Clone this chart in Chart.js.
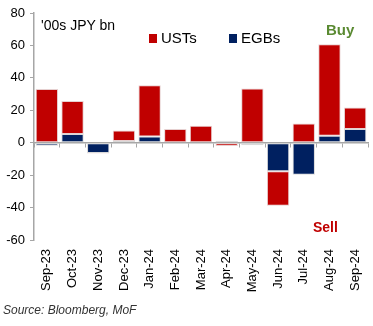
<!DOCTYPE html>
<html>
<head>
<meta charset="utf-8">
<script src="https://cdn.jsdelivr.net/npm/chart.js@4"></script>
<style>
  html, body { margin: 0; padding: 0; background: #fff; }
  #wrap { position: relative; width: 373px; height: 326px; font-family: Arial, "Liberation Sans", sans-serif; }
  #wrap canvas { position: absolute; left: 0; top: 0; }
  .txt { position: absolute; white-space: nowrap; }
  .unit { left: 41px; top: 18px; font-size: 14px; line-height: 14px; color: #000; }
  .leg { top: 30px; font-size: 15px; line-height: 15px; color: #000; }
  .leg i { display: inline-block; width: 8px; height: 9px; margin-right: 4px; vertical-align: 0px; }
  .buy { left: 326px; top: 22px; font-size: 15px; line-height: 15px; font-weight: bold; color: #5a8a32; }
  .sell { left: 313px; top: 220px; font-size: 14px; line-height: 14px; font-weight: bold; color: #c00000; }
  .src { left: 3px; top: 304px; font-size: 12px; line-height: 12px; font-style: italic; color: #333; }
</style>
</head>
<body>
<div id="wrap">
  <canvas id="grafica" width="373" height="326"></canvas>
  <div class="txt unit">'00s JPY bn</div>
  <div class="txt leg" style="left:149px"><i style="background:#c00000"></i>USTs</div>
  <div class="txt leg" style="left:229px"><i style="background:#002060"></i>EGBs</div>
  <div class="txt buy">Buy</div>
  <div class="txt sell">Sell</div>
  <div class="txt src">Source: Bloomberg, MoF</div>
</div>
<script>
// Flujos mensuales de inversores japoneses ('00s JPY bn)
const meses = ['Sep-23', 'Oct-23', 'Nov-23', 'Dec-23', 'Jan-24', 'Feb-24', 'Mar-24', 'Apr-24', 'May-24', 'Jun-24', 'Jul-24', 'Aug-24', 'Sep-24'];
const usts = [33.2, 20.5, -0.3, 6.6, 31.6, 8.4, 10.5, -2.0, 33.4, -21.2, 11.9, 56.4, 13.3];
const egbs = [-1.8, 5.3, -6.4, 1.0, 3.9, -0.7, -1.0, 1.2, -1.5, -17.6, -19.7, 4.3, 8.4];
const yTicks = [-60, -40, -20, 0, 20, 40, 60, 80];

const ejeGris = '#a6a6a6';
const fuente = { family: 'Arial, "Liberation Sans", sans-serif', size: 13 };

// sin relleno lateral automático en los ejes x
const sinPadLateral = s => { s.paddingLeft = 0; s.paddingRight = 0; };

const ctx = document.getElementById('grafica').getContext('2d');
new Chart(ctx, {
  type: 'bar',
  data: {
    labels: meses,
    datasets: [
      // EGBs primero para que quede pegado al cero en la pila
      { label: 'EGBs', data: egbs, backgroundColor: '#002060', borderColor: '#d9d9d9', borderWidth: 1, borderSkipped: false },
      { label: 'USTs', data: usts, backgroundColor: '#c00000', borderColor: '#e6d0d0', borderWidth: 1, borderSkipped: false }
    ]
  },
  options: {
    responsive: false,
    animation: false,
    layout: { padding: { top: 13, right: 5, bottom: 30, left: 0 } },
    datasets: { bar: { barPercentage: 0.87, categoryPercentage: 1 } },
    plugins: { legend: { display: false }, tooltip: { enabled: false } },
    scales: {
      x: {
        stacked: true,
        grid: { display: false, drawTicks: false },
        border: { display: false },
        ticks: { color: '#000', font: fuente, minRotation: 90, maxRotation: 90, autoSkip: false, padding: 9 },
        afterFit: s => { s.height = 56; sinPadLateral(s); }
      },
      x2: {
        type: 'category',
        labels: meses,
        position: { y: 0 },
        offset: true,
        grid: { display: true, drawOnChartArea: false, drawTicks: true, tickLength: 4, color: ejeGris, offset: true },
        border: { display: true, color: ejeGris, width: 1.5 },
        ticks: { display: false },
        afterFit: sinPadLateral
      },
      y: {
        stacked: true,
        min: -60,
        max: 80,
        afterBuildTicks: s => { s.ticks = yTicks.map(v => ({ value: v })); },
        grid: { drawOnChartArea: false, drawTicks: true, tickLength: 4, color: ejeGris },
        border: { display: true, color: ejeGris, width: 1.5 },
        ticks: { color: '#000', font: fuente, padding: 5 },
        afterFit: s => { s.width = 34; }
      }
    }
  }
});
</script>
</body>
</html>
